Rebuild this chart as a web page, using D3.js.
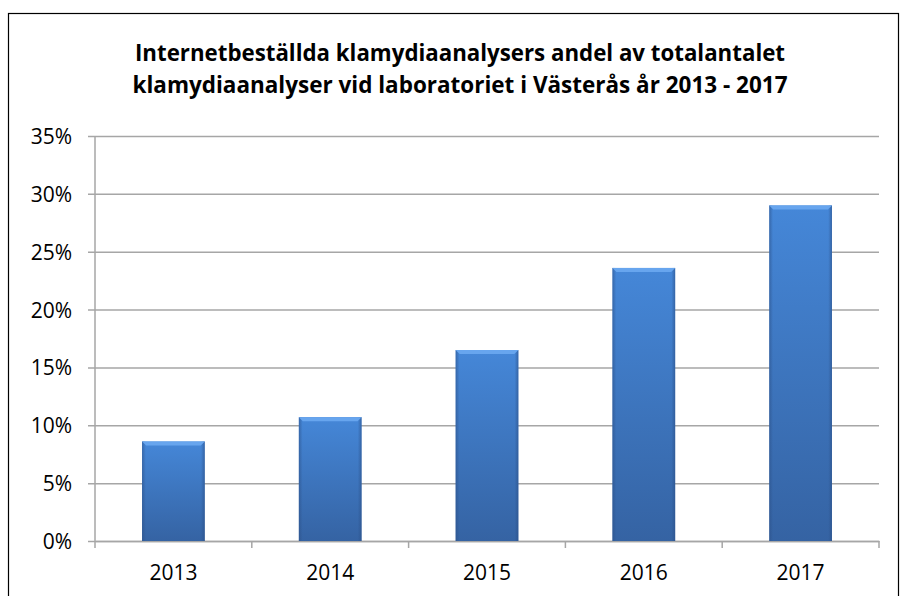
<!DOCTYPE html>
<html>
<head>
<meta charset="utf-8">
<script src="https://cdn.jsdelivr.net/npm/d3@7"></script>
<style>
  body { margin: 0; background: #fff; }
  svg { display: block; }
  .title { font-family: 'Open Sans', sans-serif; font-weight: bold; fill: #000; }
</style>
</head>
<body>
<div id="chart"></div>
<script>
var years = ['2013', '2014', '2015', '2016', '2017']
var shares = [0.086, 0.107, 0.165, 0.236, 0.290]
var yTicks = [0, 0.05, 0.10, 0.15, 0.20, 0.25, 0.30, 0.35]
var titleLines = [
  'Internetbeställda klamydiaanalysers andel av totalantalet',
  'klamydiaanalyser vid laboratoriet i Västerås år 2013 - 2017'
]

var width = 903
var height = 596
var margin = { top: 136, right: 24, bottom: 55, left: 95 }
var innerW = width - margin.left - margin.right
var innerH = height - margin.top - margin.bottom

var svg = d3.select('#chart').append('svg')
  .attr('width', width)
  .attr('height', height)

// outer frame
svg.append('rect')
  .attr('x', 8.5)
  .attr('y', 13.5)
  .attr('width', 890)
  .attr('height', 600)
  .style('fill', 'none')
  .style('stroke', '#000')
  .style('stroke-width', 1.2)

// title, squeezed to the reference width
var titleSize = 24
svg.selectAll('.title')
  .data(titleLines)
  .enter().append('text')
  .attr('class', 'title')
  .attr('x', 460)
  .attr('y', function (d, i) { return 61 + i * 32 })
  .style('text-anchor', 'middle')
  .style('font-size', titleSize + 'px')
  .text(function (d) { return d })
  .each(function (d, i) {
    var target = i === 0 ? 650 : 655
    var w = this.getComputedTextLength()
    if (w > target) {
      d3.select(this).attr('textLength', target).attr('lengthAdjust', 'spacingAndGlyphs')
    }
  })

var defs = svg.append('defs')
var grad = defs.append('linearGradient')
  .attr('id', 'barGrad')
  .attr('x1', '0%').attr('y1', '0%')
  .attr('x2', '0%').attr('y2', '100%')
grad.append('stop').attr('offset', '0%').attr('stop-color', '#4587d8')
grad.append('stop').attr('offset', '100%').attr('stop-color', '#3563a3')

var sideGrad = defs.append('linearGradient')
  .attr('id', 'sideGrad')
  .attr('x1', '0%').attr('y1', '0%')
  .attr('x2', '100%').attr('y2', '0%')
sideGrad.append('stop').attr('offset', '0%').attr('stop-color', '#2b4f86').attr('stop-opacity', 0.55)
sideGrad.append('stop').attr('offset', '6%').attr('stop-color', '#2b4f86').attr('stop-opacity', 0)
sideGrad.append('stop').attr('offset', '94%').attr('stop-color', '#2b4f86').attr('stop-opacity', 0)
sideGrad.append('stop').attr('offset', '100%').attr('stop-color', '#2b4f86').attr('stop-opacity', 0.6)

var g = svg.append('g')
  .attr('transform', 'translate(' + margin.left + ',' + margin.top + ')')

var x = d3.scaleBand()
  .domain(years)
  .range([0, innerW])
  .paddingInner(0.6)
  .paddingOuter(0.3)

var y = d3.scaleLinear()
  .domain([0, 0.35])
  .range([innerH, 0])

// gridlines + y axis
var yAxis = g.append('g')
  .call(d3.axisLeft(y)
    .tickValues(yTicks)
    .tickFormat(d3.format('.0%'))
    .tickSize(-innerW - 7))
  .attr('transform', 'translate(-7,0)')
yAxis.select('.domain').remove()
yAxis.selectAll('.tick line')
  .style('stroke', '#a6a6a6')
  .style('stroke-width', 1.5)
  .attr('x1', 0)
yAxis.selectAll('.tick text')
  .attr('x', -16)
  .attr('dy', '0.36em')
  .style('font-family', "'Open Sans', sans-serif")
  .style('font-size', '21px')
  .style('fill', '#000')

g.append('line')
  .attr('x1', 0).attr('x2', 0)
  .attr('y1', 0).attr('y2', innerH)
  .style('stroke', '#a6a6a6')
  .style('stroke-width', 1.5)

// x axis with ticks between categories
var xAxis = g.append('g')
  .attr('transform', 'translate(0,' + innerH + ')')
  .call(d3.axisBottom(x).tickSize(0).tickPadding(31))
xAxis.select('.domain')
  .style('stroke', '#a6a6a6')
  .style('stroke-width', 1.5)
xAxis.selectAll('.tick text')
  .attr('dy', '0.36em')
  .style('font-family', "'Open Sans', sans-serif")
  .style('font-size', '21px')
  .style('fill', '#000')

g.selectAll('.xtick')
  .data(d3.range(years.length + 1))
  .enter().append('line')
  .attr('class', 'xtick')
  .attr('x1', function (d) { return d * innerW / years.length })
  .attr('x2', function (d) { return d * innerW / years.length })
  .attr('y1', innerH)
  .attr('y2', innerH + 7)
  .style('stroke', '#a6a6a6')
  .style('stroke-width', 1.5)

// bars
var bars = g.selectAll('.bar')
  .data(shares)
  .enter().append('g')
  .attr('class', 'bar')

bars.append('rect')
  .attr('x', function (d, i) { return x(years[i]) })
  .attr('y', function (d) { return y(d) })
  .attr('width', x.bandwidth())
  .attr('height', function (d) { return innerH - y(d) })
  .style('fill', 'url(#barGrad)')

bars.append('rect')
  .attr('x', function (d, i) { return x(years[i]) })
  .attr('y', function (d) { return y(d) })
  .attr('width', x.bandwidth())
  .attr('height', function (d) { return innerH - y(d) })
  .style('fill', 'url(#sideGrad)')

// light top bevel
bars.append('path')
  .attr('d', function (d, i) {
    var x0 = x(years[i])
    var x1 = x0 + x.bandwidth()
    var t = y(d)
    return 'M' + x0 + ',' + t + 'L' + x1 + ',' + t + 'L' + (x1 - 4) + ',' + (t + 4) + 'L' + (x0 + 4) + ',' + (t + 4) + 'Z'
  })
  .style('fill', '#67a5ee')
</script>
</body>
</html>
